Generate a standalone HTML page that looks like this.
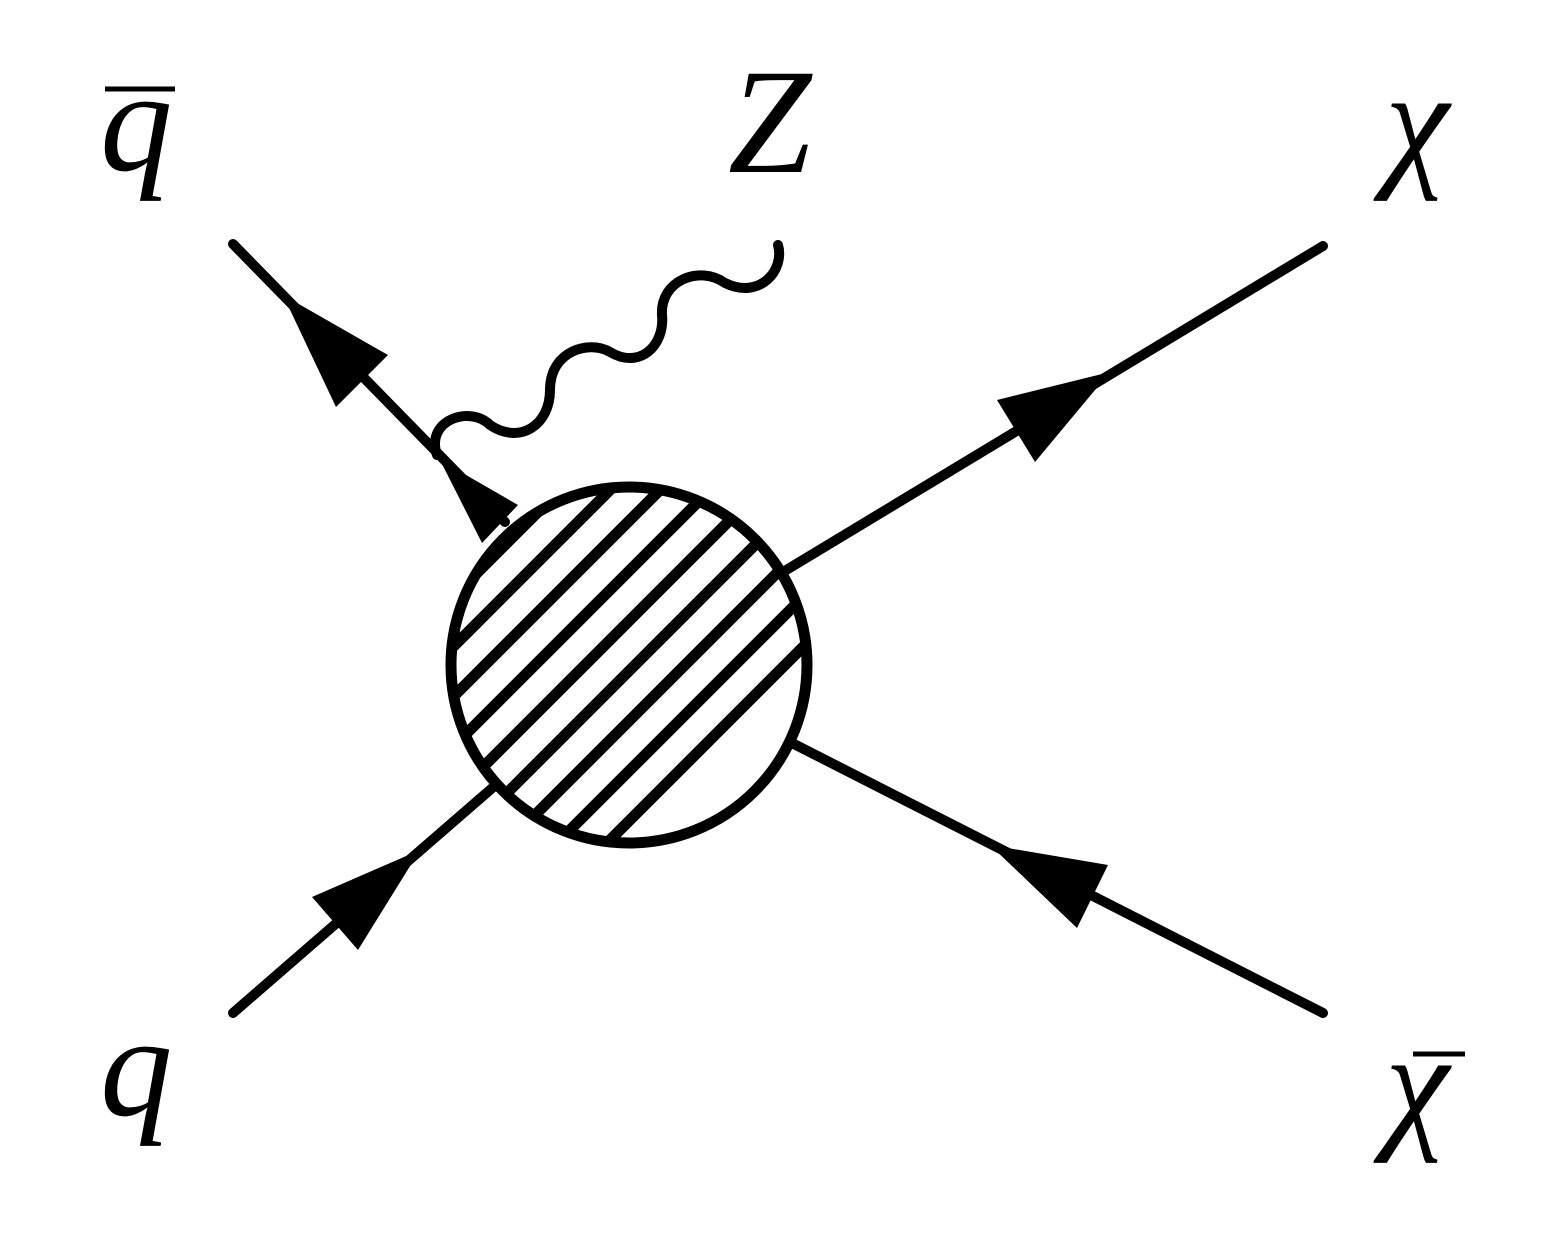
<!DOCTYPE html>
<html><head><meta charset="utf-8"><style>
html,body{margin:0;padding:0;background:#fff}
svg{display:block}
text{font-family:"Liberation Serif","DejaVu Serif",serif;font-style:italic;fill:#000}
</style></head><body>
<svg width="1550" height="1248" viewBox="0 0 1550 1248">
<defs><clipPath id="blobclip"><circle cx="629" cy="665" r="174"/></clipPath></defs>
<g stroke="#000" stroke-width="10" stroke-linecap="round" fill="none">
<line x1="233" y1="244" x2="505" y2="522"/>
<line x1="233" y1="1013" x2="498" y2="783"/>
<line x1="783" y1="572" x2="1323" y2="246"/>
<line x1="790" y1="742" x2="1323" y2="1013"/>
<path d="M437,455 C425,420 470,405 490,425 C520,445 550,425 550,390 C550,350 590,340 610,352 C640,370 665,345 662,315 C660,280 700,265 725,283 C760,300 785,270 778,245"/>
</g>
<g fill="#000">
<polygon points="283,295 388,355 336,407"/>
<polygon points="440,460 518,505 482,543"/>
<polygon points="420,850 312,897 358,950"/>
<polygon points="1110,372 997,400 1035,462"/>
<polygon points="990,845 1108,865 1077,928"/>
</g>
<g>
<circle cx="629" cy="665" r="178" fill="#fff" stroke="#000" stroke-width="11"/>
<g clip-path="url(#blobclip)" stroke="#000" stroke-width="11">
<line x1="300" y1="900" x2="900" y2="300" transform="translate(-150,0)"/>
<line x1="300" y1="900" x2="900" y2="300" transform="translate(-100,0)"/>
<line x1="300" y1="900" x2="900" y2="300" transform="translate(-50,0)"/>
<line x1="300" y1="900" x2="900" y2="300" transform="translate(0,0)"/>
<line x1="300" y1="900" x2="900" y2="300" transform="translate(50,0)"/>
<line x1="300" y1="900" x2="900" y2="300" transform="translate(100,0)"/>
<line x1="300" y1="900" x2="900" y2="300" transform="translate(150,0)"/>
<line x1="300" y1="900" x2="900" y2="300" transform="translate(200,0)"/>
<line x1="300" y1="900" x2="900" y2="300" transform="translate(250,0)"/>
</g>
</g>
<text x="100" y="170" font-size="145">q</text>
<line x1="105" y1="89" x2="175" y2="89" stroke="#000" stroke-width="5"/>
<text x="728" y="172" font-size="150">Z</text>
<text x="1385" y="170" font-size="145">χ</text>
<text x="100" y="1115" font-size="145">q</text>
<text x="1385" y="1132" font-size="145">χ</text>
<line x1="1413" y1="1054" x2="1465" y2="1054" stroke="#000" stroke-width="5"/>
</svg>
</body></html>
